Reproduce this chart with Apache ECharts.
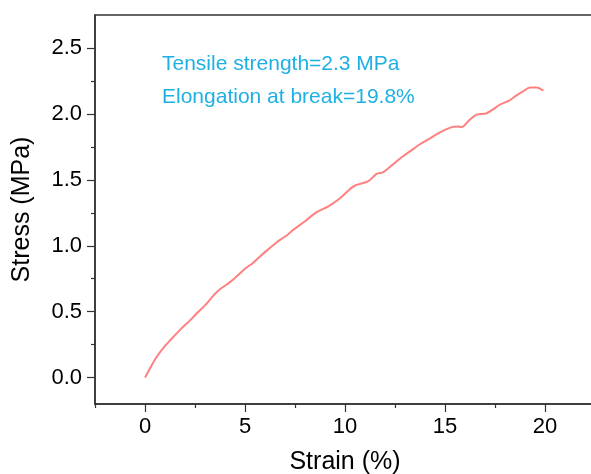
<!DOCTYPE html>
<html>
<head>
<meta charset="utf-8">
<script src="https://cdn.jsdelivr.net/npm/echarts@6/dist/echarts.min.js"></script>
<style>
  html, body { margin: 0; padding: 0; background: #fff; }
  #main { width: 591px; height: 474px; }
</style>
</head>
<body>
<div id="main"></div>
<script>
// strain (%)
var strain = [0, 0.25, 0.58, 1.0, 1.33, 1.8, 2.25, 2.6, 3.0, 3.35, 3.67, 4.25, 4.6, 5.0, 5.4, 5.75,
  6.1, 6.5, 6.75, 7.1, 7.42, 8.0, 8.58, 9.17, 9.75, 10.1, 10.5, 11.17, 11.58, 11.92, 12.33, 12.83,
  13.42, 13.75, 14.25, 14.75, 15.33, 15.6, 15.83, 16.2, 16.58, 17.08, 17.75, 18.2, 18.58, 18.9,
  19.25, 19.58, 19.92];
// stress (MPa)
var stress = [0, 0.07, 0.156, 0.24, 0.295, 0.37, 0.434, 0.49, 0.548, 0.61, 0.661, 0.724, 0.77, 0.826, 0.87, 0.919,
  0.965, 1.015, 1.045, 1.08, 1.121, 1.186, 1.255, 1.298, 1.36, 1.41, 1.457, 1.49, 1.545, 1.558, 1.608, 1.671,
  1.735, 1.77, 1.815, 1.86, 1.90, 1.905, 1.90, 1.95, 1.995, 2.005, 2.07, 2.10, 2.14, 2.17,
  2.20, 2.20, 2.176];
// tick values
var xMajor = [0, 5, 10, 15, 20];
var xMinor = [-2.5, 2.5, 7.5, 12.5, 17.5, 22.5];
var yMajor = [0, 0.5, 1.0, 1.5, 2.0, 2.5];
var yMinor = [0.25, 0.75, 1.25, 1.75, 2.25];
var notes = ['Tensile strength=2.3 MPa', 'Elongation at break=19.8%'];

var points = strain.map(function (s, i) { return [s, stress[i]]; });

var myChart = echarts.init(document.getElementById('main'));
var font = 'Liberation Sans, Arial, sans-serif';
var axisColor = '#333';

var option = {
  animation: false,
  backgroundColor: '#fff',
  grid: {
    left: 95, right: -4, top: 15, bottom: 70,
    containLabel: false, outerBoundsMode: 'none',
    show: true, borderColor: axisColor, borderWidth: 1.5
  },
  xAxis: [{
    type: 'value',
    min: -2.5, max: 22.5,
    name: 'Strain (%)',
    nameLocation: 'middle',
    nameGap: 46,
    nameTextStyle: { color: '#000', fontSize: 25, fontFamily: font },
    axisLine: { onZero: false, lineStyle: { color: axisColor, width: 1.5 } },
    axisTick: { inside: false, length: 8, customValues: xMajor, lineStyle: { color: axisColor, width: 1.2 } },
    axisLabel: { color: '#000', fontSize: 22, fontFamily: font, margin: 12, customValues: xMajor },
    splitLine: { show: false }
  }, {
    // minor ticks
    type: 'value',
    min: -2.5, max: 22.5,
    position: 'bottom',
    axisLine: { show: false, onZero: false },
    axisTick: { inside: false, length: 4, customValues: xMinor, lineStyle: { color: axisColor, width: 1.2 } },
    axisLabel: { show: false },
    splitLine: { show: false }
  }],
  yAxis: [{
    type: 'value',
    min: -0.2, max: 2.75,
    name: 'Stress (MPa)',
    nameLocation: 'middle',
    nameGap: 60,
    nameTextStyle: { color: '#000', fontSize: 25, fontFamily: font },
    axisLine: { onZero: false, lineStyle: { color: axisColor, width: 1.5 } },
    axisTick: { inside: false, length: 8, customValues: yMajor, lineStyle: { color: axisColor, width: 1.2 } },
    axisLabel: {
      color: '#000', fontSize: 22, fontFamily: font, margin: 13, customValues: yMajor,
      formatter: function (v) { return v.toFixed(1); }
    },
    splitLine: { show: false }
  }, {
    type: 'value',
    min: -0.2, max: 2.75,
    position: 'left',
    axisLine: { show: false, onZero: false },
    axisTick: { inside: false, length: 4, customValues: yMinor, lineStyle: { color: axisColor, width: 1.2 } },
    axisLabel: { show: false },
    splitLine: { show: false }
  }],
  graphic: [
    { type: 'text', left: 162, top: 54, style: { text: notes[0], fill: '#1fb0e3', font: '21px ' + font } },
    { type: 'text', left: 162, top: 87, style: { text: notes[1], fill: '#1fb0e3', font: '21px ' + font } }
  ],
  series: [{
    type: 'line',
    data: points,
    showSymbol: false,
    smooth: 0.3,
    lineStyle: { color: '#ff8080', width: 2 }
  }]
};

myChart.setOption(option);
</script>
</body>
</html>
